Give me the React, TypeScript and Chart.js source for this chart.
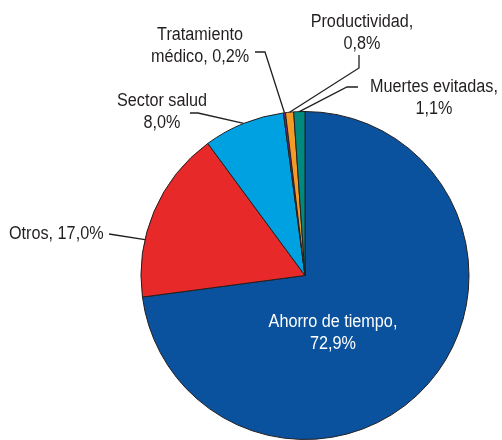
import React, { useEffect, useRef } from "react";
import { Chart, registerables } from "chart.js";

Chart.register(...registerables);

const categories = [
  "Ahorro de tiempo",
  "Otros",
  "Sector salud",
  "Tratamiento médico",
  "Productividad",
  "Muertes evitadas",
];
const values = [72.9, 17.0, 8.0, 0.2, 0.8, 1.1];
const valueLabels = ["72,9%", "17,0%", "8,0%", "0,2%", "0,8%", "1,1%"];
const colors = ["#0a529e", "#e8292a", "#00a1e0", "#6b2c8f", "#f49b27", "#00897f"];

// label text lines per slice
const labelLines: string[][] = [
  ["Ahorro de tiempo,", "72,9%"],
  ["Otros, 17,0%"],
  ["Sector salud", "8,0%"],
  ["Tratamiento", "médico, 0,2%"],
  ["Productividad,", "0,8%"],
  ["Muertes evitadas,", "1,1%"],
];

const FONT = '18px "Liberation Sans", Arial, sans-serif';
const SQUEEZE = 0.9;

type Layout = {
  tx: number; ty: number; align: CanvasTextAlign; color: string;
  line?: { start: [number, number]; elbow?: [number, number]; t: number };
};

const layouts: Layout[] = [
  { tx: 333, ty: 322, align: "center", color: "#ffffff" },
  { tx: 9, ty: 234, align: "left", color: "#231f20", line: { start: [109, 234], t: 0.33 } },
  { tx: 162, ty: 101, align: "center", color: "#231f20", line: { start: [190, 113], elbow: [198, 113], t: 0.5 } },
  { tx: 200, ty: 35, align: "center", color: "#231f20", line: { start: [255, 52], elbow: [265, 52], t: 0.5 } },
  { tx: 362, ty: 22, align: "center", color: "#231f20", line: { start: [359, 55], elbow: [359, 68], t: 0.5 } },
  { tx: 434, ty: 87, align: "center", color: "#231f20", line: { start: [358, 87], elbow: [347, 87], t: 0.5 } },
];

const labelPlugin = {
  id: "pieLabels",
  afterDatasetsDraw(chart: any) {
    const ctx: CanvasRenderingContext2D = chart.ctx;
    const meta = chart.getDatasetMeta(0);
    ctx.save();
    meta.data.forEach((arc: any, i: number) => {
      const L = layouts[i];
      if (!L) return;
      const { x, y, startAngle, endAngle, outerRadius } = arc.getProps(
        ["x", "y", "startAngle", "endAngle", "outerRadius"], true
      );
      if (L.line) {
        const a = startAngle + (endAngle - startAngle) * L.line.t;
        const ex = x + Math.cos(a) * outerRadius;
        const ey = y + Math.sin(a) * outerRadius;
        ctx.beginPath();
        ctx.strokeStyle = "#231f20";
        ctx.lineWidth = 1.3;
        ctx.moveTo(L.line.start[0], L.line.start[1]);
        if (L.line.elbow) ctx.lineTo(L.line.elbow[0], L.line.elbow[1]);
        ctx.lineTo(ex, ey);
        ctx.stroke();
      }
      ctx.save();
      ctx.font = FONT;
      ctx.textBaseline = "middle";
      ctx.fillStyle = L.color;
      ctx.textAlign = L.align;
      ctx.translate(L.tx, L.ty);
      ctx.scale(SQUEEZE, 1);
      labelLines[i].forEach((t, k) => ctx.fillText(t, 0, k * 22));
      ctx.restore();
    });
    ctx.restore();
  },
};

export default function App() {
  const ref = useRef<HTMLCanvasElement>(null);
  useEffect(() => {
    document.body.style.margin = "0";
    const chart = new Chart(ref.current!, {
      type: "pie",
      data: {
        labels: categories.map((c, i) => `${c}, ${valueLabels[i]}`),
        datasets: [
          {
            data: values,
            backgroundColor: colors,
            borderColor: "#231f20",
            borderWidth: 1,
          },
        ],
      },
      options: {
        animation: false,
        responsive: false,
        layout: { padding: { left: 140, right: 32, top: 111, bottom: 0 } },
        plugins: { legend: { display: false }, tooltip: { enabled: false } },
      },
      plugins: [labelPlugin],
    });
    return () => chart.destroy();
  }, []);
  return (
    <div style={{ width: 502, height: 440, background: "#fff" }}>
      <canvas ref={ref} width={502} height={440} />
    </div>
  );
}
